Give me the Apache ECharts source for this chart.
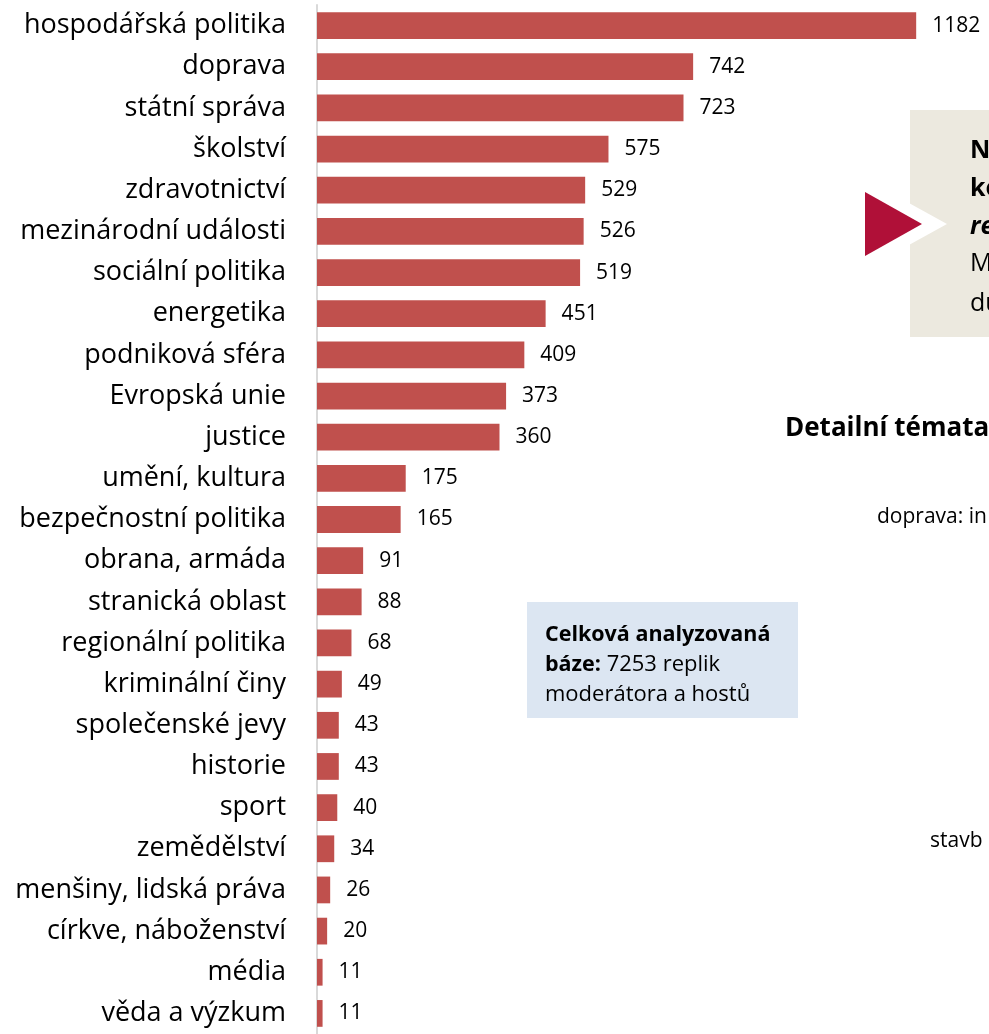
<!DOCTYPE html>
<html>
<head>
<meta charset="utf-8">
<script src="https://cdn.jsdelivr.net/npm/echarts@6/dist/echarts.min.js"></script>
<style>
  html, body { margin: 0; padding: 0; background: #fff; }
  #chart { width: 989px; height: 1034px; }
</style>
</head>
<body>
<div id="chart"></div>
<script>
var categories = ['hospodářská politika', 'doprava', 'státní správa', 'školství', 'zdravotnictví',
  'mezinárodní události', 'sociální politika', 'energetika', 'podniková sféra', 'Evropská unie',
  'justice', 'umění, kultura', 'bezpečnostní politika', 'obrana, armáda', 'stranická oblast',
  'regionální politika', 'kriminální činy', 'společenské jevy', 'historie', 'sport',
  'zemědělství', 'menšiny, lidská práva', 'církve, náboženství', 'média', 'věda a výzkum'];
var counts = [1182, 742, 723, 575, 529, 526, 519, 451, 409, 373, 360, 175, 165, 91, 88, 68, 49, 43, 43, 40, 34, 26, 20, 11, 11];

var font = 'Open Sans';
var myChart = echarts.init(document.getElementById('chart'));

function txt(x, y, text, size, extra) {
  var style = { text: text, fontSize: size, fontFamily: font, fill: '#000', verticalAlign: 'middle' };
  for (var k in extra) style[k] = extra[k];
  return { type: 'text', x: x, y: y, style: style };
}

var option = {
  animation: false,
  grid: { left: 317, top: 5, width: 659, height: 1035 },
  xAxis: {
    type: 'value',
    min: 0,
    max: 1300,
    show: false
  },
  yAxis: {
    type: 'category',
    inverse: true,
    data: categories,
    axisLine: { show: true, lineStyle: { color: '#d9d9d9', width: 2 } },
    axisTick: { show: false },
    axisLabel: { margin: 31, color: '#000', fontSize: 27, fontFamily: font }
  },
  series: [{
    type: 'bar',
    data: counts,
    barCategoryGap: '35%',
    itemStyle: { color: '#c0504d' },
    label: {
      show: true,
      position: 'right',
      distance: 16,
      color: '#000',
      fontSize: 21,
      fontFamily: font
    }
  }],
  graphic: [
    // beige note box on the right (cut off by the picture edge)
    { type: 'rect', shape: { x: 910, y: 110, width: 100, height: 227 }, style: { fill: '#ece9df' } },
    { type: 'polygon', shape: { points: [[840, 165], [947, 224], [840, 283]] }, style: { fill: '#fff' } },
    { type: 'polygon', shape: { points: [[865, 192], [922, 224], [865, 256]] }, style: { fill: '#b01038' } },
    txt(970, 151, 'N', 25, { fontWeight: 'bold' }),
    txt(970, 189, 'ko', 25, { fontWeight: 'bold' }),
    txt(970, 227, 're', 25, { fontWeight: 'bold', fontStyle: 'italic' }),
    txt(970, 264, 'M', 25, {}),
    txt(970, 304, 'du', 25, {}),
    // detail topics heading and fragments
    txt(785, 429, 'Detailní témata', 26, { fontWeight: 'bold' }),
    txt(877, 517, 'doprava: in', 21, {}),
    txt(930, 841, 'stavb', 21, {}),
    // total base box
    { type: 'rect', shape: { x: 527, y: 602, width: 271, height: 116 }, style: { fill: '#dce6f2' } },
    txt(545, 635, 'Celková analyzovaná', 21.5, { fontWeight: 'bold' }),
    txt(545, 665, '{b|báze:} 7253 replik', 22, {
      rich: { b: { fontWeight: 'bold', fontSize: 21.5, fontFamily: font } }
    }),
    txt(545, 695, 'moderátora a hostů', 22, {})
  ]
};

myChart.setOption(option);
</script>
</body>
</html>
